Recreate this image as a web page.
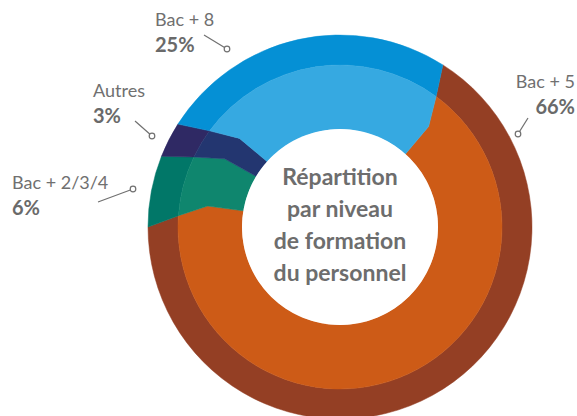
<!DOCTYPE html>
<html lang="fr">
  <head>
    <meta charset="UTF-8" />
    <title>Répartition par niveau de formation</title>
    <script src="https://d3js.org/d3.v7.min.js"></script>
    <style>
      body {
        margin: 0;
        background: #fff;
      }
      * {
        font-family: Lato, "Open Sans", sans-serif;
      }
      .cat {
        font-size: 18px;
        fill: #707070;
      }
      .pct {
        font-size: 20px;
        font-weight: bold;
        fill: #6a6a6a;
      }
      .title {
        font-size: 23px;
        font-weight: bold;
        fill: #6d6d6d;
        text-anchor: middle;
      }
      .leader {
        stroke: #707070;
        stroke-width: 1.2;
        fill: #fff;
      }
    </style>
  </head>
  <body></body>
  <script>
    // data, in drawing order (clockwise)
    const categories = ["Bac + 5", "Bac + 2/3/4", "Autres", "Bac + 8"];
    const shares = [66, 6, 3, 25];
    const darkColors = ["#943f24", "#017768", "#2f2964", "#0590d5"];
    const lightColors = ["#cd5b17", "#0f866e", "#233670", "#36a9e1"];
    const titleLines = ["Répartition", "par niveau", "de formation", "du personnel"];

    // label placement: text anchor point, leader start, leader dot
    const labelPos = {
      "Bac + 8": { x: 155, y: 26, anchor: "start", line: [204, 35, 227, 49] },
      "Autres": { x: 93, y: 97, anchor: "start", line: [135, 121, 152, 136] },
      "Bac + 2/3/4": { x: 12, y: 189, anchor: "start", line: [98, 202, 133, 189] },
      "Bac + 5": { x: 575, y: 88, anchor: "end", line: [528, 118, 518, 134] },
    };

    const width = 577,
      height = 416;
    const cx = 340,
      cy = 227;
    const rOuter = 192,
      rMid = 162,
      rKnee = 134,
      rHole = 98;
    const deg = Math.PI / 180;
    // boundaries twist a little going inward
    const twistMid = 4 * deg,
      twistKnee = 9 * deg,
      twistHole = 9.5 * deg;

    const svg = d3
      .select("body")
      .append("svg")
      .attr("width", width)
      .attr("height", height);

    const pie = d3
      .pie()
      .sort(null)
      .startAngle(32.4 * deg)
      .endAngle(32.4 * deg + 2 * Math.PI);

    const slices = pie(shares);

    // angle measured clockwise from 12 o'clock -> canvas angle
    const ca = (a) => a - Math.PI / 2;
    const pt = (r, a) => [r * Math.sin(a), -r * Math.cos(a)];

    function darkPath(d) {
      const p = d3.path();
      const a0 = d.startAngle,
        a1 = d.endAngle;
      p.moveTo(...pt(rOuter, a0));
      p.arc(0, 0, rOuter, ca(a0), ca(a1), false);
      p.lineTo(...pt(rMid, a1 + twistMid));
      p.arc(0, 0, rMid, ca(a1 + twistMid), ca(a0 + twistMid), true);
      p.closePath();
      return p.toString();
    }

    function lightPath(d) {
      const p = d3.path();
      const a0 = d.startAngle,
        a1 = d.endAngle;
      p.moveTo(...pt(rMid, a0 + twistMid));
      p.arc(0, 0, rMid, ca(a0 + twistMid), ca(a1 + twistMid), false);
      p.lineTo(...pt(rKnee, a1 + twistKnee));
      p.lineTo(...pt(rHole, a1 + twistHole));
      p.arc(0, 0, rHole, ca(a1 + twistHole), ca(a0 + twistHole), true);
      p.lineTo(...pt(rKnee, a0 + twistKnee));
      p.closePath();
      return p.toString();
    }

    const ring = svg.append("g").attr("transform", `translate(${cx},${cy})`);

    ring
      .selectAll("path.dark")
      .data(slices)
      .enter()
      .append("path")
      .attr("class", "dark")
      .attr("d", darkPath)
      .attr("fill", (d, i) => darkColors[i])
      .attr("stroke", (d, i) => darkColors[i])
      .attr("stroke-width", 0.5);

    ring
      .selectAll("path.light")
      .data(slices)
      .enter()
      .append("path")
      .attr("class", "light")
      .attr("d", lightPath)
      .attr("fill", (d, i) => lightColors[i])
      .attr("stroke", (d, i) => lightColors[i])
      .attr("stroke-width", 0.5);

    ring.append("circle").attr("r", rHole).attr("fill", "#fff");

    ring
      .selectAll("text.title")
      .data(titleLines)
      .enter()
      .append("text")
      .attr("class", "title")
      .attr("x", 0)
      .attr("y", (d, i) => -42 + i * 32)
      .text((d) => d);

    // labels
    categories.forEach(function (c, i) {
      const lp = labelPos[c];
      const g = svg.append("g");
      g.append("text")
        .attr("class", "cat")
        .attr("x", lp.x)
        .attr("y", lp.y)
        .attr("text-anchor", lp.anchor)
        .text(c);
      g.append("text")
        .attr("class", "pct")
        .attr("x", lp.x)
        .attr("y", lp.y + 26)
        .attr("text-anchor", lp.anchor)
        .text(shares[i] + "%");
      g.append("line")
        .attr("class", "leader")
        .attr("x1", lp.line[0])
        .attr("y1", lp.line[1])
        .attr("x2", lp.line[2])
        .attr("y2", lp.line[3]);
      g.append("circle")
        .attr("class", "leader")
        .attr("cx", lp.line[2])
        .attr("cy", lp.line[3])
        .attr("r", 2.8);
    });
  </script>
</html>
